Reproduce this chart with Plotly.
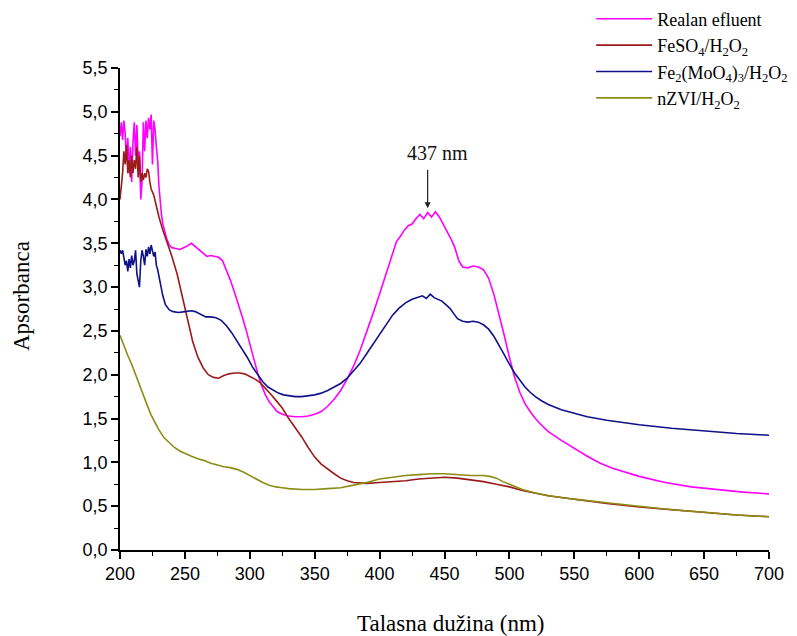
import plotly.graph_objects as go

# ---- Realan efluent ----
realan_x = [200,201,202,203,204,205,206,207,208,209,210,211,212,213,214,215,216,217,218,219,220,
            221,222,223,224,225,226,227,228,229,230,231,232,233,234,236,238,240,243,246,249,252,255,
            258,261,264,267,270,273,276,279,282,285,288,291,294,297,300,303,306,309,312,315,318,321,
            325,330,335,340,345,350,355,360,365,370,375,380,385,390,395,400,405,410,413,416,419,422,
            425,428,431,434,437,440,443,446,449,452,455,458,461,464,468,472,476,480,484,488,492,496,
            500,504,508,512,516,520,525,530,540,550,560,570,580,600,620,640,660,680,700]
realan_y = [4.72,4.88,4.68,4.90,4.75,4.45,4.70,4.30,4.60,4.20,4.65,4.88,4.50,4.85,4.40,4.55,4.00,4.20,4.88,4.55,4.90,
            4.70,4.93,4.80,4.97,4.40,4.90,4.80,4.60,4.45,4.15,3.95,3.82,3.72,3.65,3.55,3.48,3.45,3.44,3.43,3.45,3.47,3.50,
            3.46,3.42,3.38,3.35,3.36,3.35,3.34,3.30,3.20,3.08,2.95,2.82,2.67,2.52,2.35,2.17,2.02,1.88,1.77,1.69,1.63,1.58,
            1.55,1.53,1.52,1.52,1.53,1.55,1.58,1.64,1.72,1.82,1.95,2.10,2.28,2.48,2.70,2.92,3.15,3.38,3.52,3.58,3.65,3.70,
            3.72,3.78,3.83,3.78,3.85,3.80,3.86,3.80,3.72,3.64,3.55,3.45,3.30,3.23,3.22,3.24,3.23,3.20,3.10,2.92,2.70,2.45,
            2.20,1.97,1.80,1.67,1.58,1.50,1.42,1.35,1.25,1.16,1.07,0.99,0.93,0.84,0.77,0.72,0.69,0.66,0.64]

# ---- FeSO4/H2O2 ----
feso4_x = [200,201,202,203,204,205,206,207,208,209,210,211,212,213,214,215,216,217,218,219,220,221,222,223,224,
           226,228,230,233,236,240,244,248,252,256,260,264,268,272,276,280,284,288,292,296,300,304,308,312,316,320,
           325,330,335,340,345,350,355,360,365,370,375,380,390,400,410,420,430,440,450,460,470,480,490,500,510,520,
           530,550,575,600,625,650,675,700]
feso4_y = [4.00,4.15,4.30,4.55,4.40,4.62,4.30,4.45,4.25,4.50,4.30,4.45,4.35,4.60,4.25,4.50,4.20,4.30,4.22,4.30,4.25,4.35,4.32,4.20,4.12,
           4.05,3.92,3.80,3.65,3.52,3.35,3.15,2.90,2.62,2.38,2.20,2.08,2.00,1.97,1.96,1.99,2.01,2.02,2.02,2.01,1.98,1.95,1.91,1.85,1.78,1.71,
           1.62,1.50,1.40,1.29,1.17,1.06,0.98,0.92,0.87,0.82,0.79,0.77,0.76,0.77,0.78,0.79,0.81,0.82,0.83,0.82,0.80,0.78,0.75,0.72,0.68,0.65,
           0.62,0.58,0.53,0.49,0.46,0.43,0.40,0.38]

# ---- Fe2(MoO4)3/H2O2 ----
femo_x = [200,201,202,203,204,205,206,207,208,209,210,211,212,213,214,215,216,217,218,219,220,221,222,223,224,225,
          226,227,228,229,230,231,233,235,238,241,245,250,255,258,262,266,270,274,278,282,286,290,294,298,302,306,310,
          314,318,322,326,330,335,340,345,350,355,360,365,370,375,380,385,390,395,400,405,410,415,420,425,430,433,436,
          439,442,445,448,451,454,457,460,464,468,472,476,480,484,488,492,496,500,504,508,512,516,520,525,530,540,550,
          560,575,600,625,650,675,700]
femo_y = [3.42,3.38,3.42,3.33,3.25,3.30,3.18,3.32,3.22,3.36,3.25,3.30,3.42,3.15,3.05,3.00,3.30,3.42,3.35,3.25,3.43,3.35,3.46,3.38,3.48,3.42,
          3.35,3.40,3.25,3.20,3.12,3.02,2.90,2.80,2.74,2.72,2.71,2.72,2.73,2.72,2.69,2.66,2.66,2.65,2.62,2.56,2.48,2.39,2.30,2.20,2.09,2.00,1.92,
          1.86,1.82,1.79,1.77,1.76,1.75,1.75,1.76,1.77,1.79,1.82,1.86,1.90,1.96,2.04,2.13,2.24,2.35,2.45,2.57,2.68,2.76,2.82,2.86,2.88,2.90,2.87,
          2.92,2.88,2.86,2.84,2.80,2.76,2.70,2.64,2.61,2.60,2.61,2.60,2.57,2.52,2.44,2.34,2.23,2.12,2.02,1.94,1.86,1.80,1.75,1.70,1.66,1.60,1.56,
          1.52,1.48,1.43,1.39,1.36,1.33,1.31]

# ---- nZVI/H2O2 ----
nzvi_x = [200,203,206,209,212,215,218,221,224,227,230,234,238,242,246,250,255,260,265,270,275,280,285,290,295,300,
          305,310,315,320,325,330,340,350,360,370,380,390,400,410,420,430,440,450,460,470,480,485,490,495,500,505,510,
          515,520,530,550,575,600,625,650,675,700]
nzvi_y = [2.45,2.33,2.22,2.12,2.00,1.87,1.76,1.65,1.54,1.45,1.37,1.28,1.22,1.17,1.13,1.10,1.07,1.04,1.02,0.99,0.97,0.95,0.94,0.92,0.89,0.85,
          0.81,0.77,0.74,0.72,0.71,0.70,0.69,0.69,0.70,0.71,0.74,0.77,0.81,0.83,0.85,0.86,0.87,0.87,0.86,0.85,0.85,0.84,0.82,0.78,0.75,0.72,0.69,
          0.67,0.65,0.62,0.58,0.54,0.50,0.46,0.43,0.40,0.38]

series_names = ["Realan efluent",
                "FeSO<sub>4</sub>/H<sub>2</sub>O<sub>2</sub>",
                "Fe<sub>2</sub>(MoO<sub>4</sub>)<sub>3</sub>/H<sub>2</sub>O<sub>2</sub>",
                "nZVI/H<sub>2</sub>O<sub>2</sub>"]
series_colors = ["#FF00FF", "#9B1B1B", "#10108A", "#8C8C14"]
series_data = [(realan_x, realan_y), (feso4_x, feso4_y), (femo_x, femo_y), (nzvi_x, nzvi_y)]

x_title = "Talasna dužina (nm)"
y_title = "Apsorbanca"
peak_x = 437
peak_y = 3.90
peak_label = "437 nm"

serif = "Liberation Serif"

fig = go.Figure()
for name, color, (xs, ys) in zip(series_names, series_colors, series_data):
    fig.add_trace(go.Scatter(x=xs, y=ys, mode="lines", name=name,
                             line=dict(color=color, width=1.6)))

# arrow pointing at the peak, and its label slightly to the right of the arrow
fig.add_annotation(x=peak_x, y=peak_y, text="", showarrow=True,
                   ax=0, ay=-40, arrowhead=2, arrowsize=1, arrowwidth=1.2,
                   arrowcolor="#222222")
fig.add_annotation(x=peak_x, y=peak_y, text=peak_label, showarrow=False,
                   yshift=42, xshift=10, yanchor="bottom", xanchor="center",
                   font=dict(family=serif, size=20, color="#111111"))

# axis titles placed as annotations so they sit where the reference has them
fig.add_annotation(xref="paper", yref="paper", x=0.5085, y=-0.152, text=x_title,
                   showarrow=False, xanchor="center", yanchor="middle",
                   font=dict(family=serif, size=23, color="black"))
fig.add_annotation(xref="paper", yref="paper", x=-0.151, y=0.527, text=y_title,
                   showarrow=False, xanchor="center", yanchor="middle", textangle=-90,
                   font=dict(family=serif, size=23, color="black"))

axis_common = dict(showline=True, linecolor="black", linewidth=1.5, ticks="outside",
                   ticklen=7, tickwidth=1.5, tickcolor="black", showgrid=False, zeroline=False,
                   tickfont=dict(family="Liberation Sans", size=18, color="black"),
                   mirror=False, automargin=False)

# page body has an 8px margin, so the figure is sized to the visible area
fig.update_layout(
    width=789, height=628,
    margin=dict(l=112, r=28, t=60, b=86, autoexpand=False),
    plot_bgcolor="white", paper_bgcolor="white",
    separators=",.",
    showlegend=True,
    legend=dict(x=0.726, y=1.14, xanchor="left", yanchor="top",
                font=dict(family=serif, size=18, color="black"),
                bgcolor="rgba(0,0,0,0)", tracegroupgap=0, itemwidth=56),
    xaxis=dict(range=[200, 700], dtick=50, tick0=200,
               minor=dict(dtick=25, ticks="outside", ticklen=4, tickwidth=1.2, tickcolor="black"),
               **axis_common),
    yaxis=dict(range=[0, 5.5], dtick=0.5, tick0=0, tickformat=".1f",
               minor=dict(dtick=0.25, ticks="outside", ticklen=4, tickwidth=1.2, tickcolor="black"),
               **axis_common),
)

fig.write_html("out.html")
